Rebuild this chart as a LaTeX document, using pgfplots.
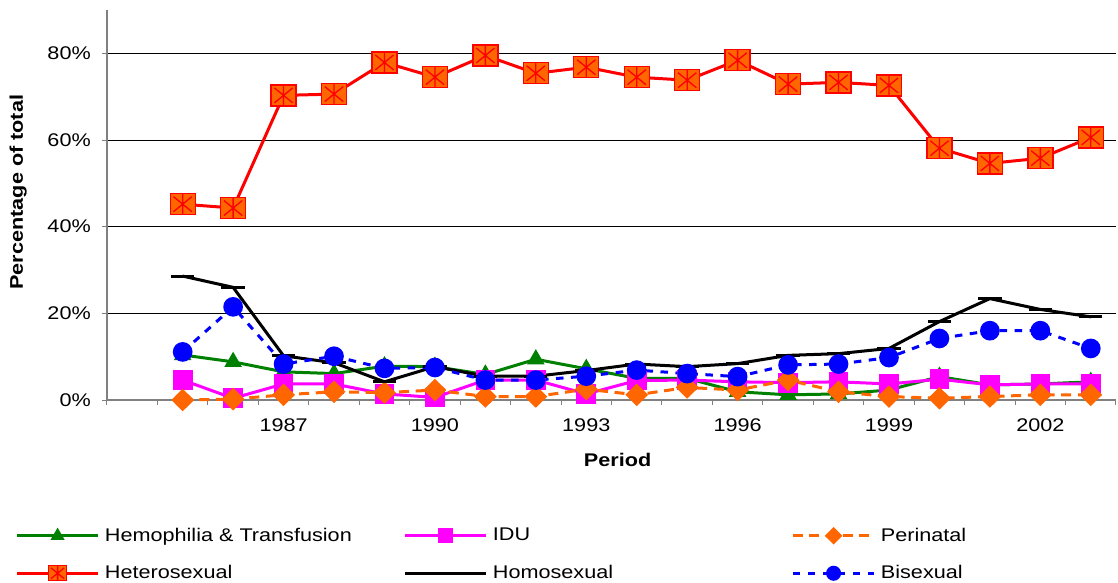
\documentclass[border=0pt]{standalone}
\usepackage{fontspec}
\setmainfont{Liberation Sans}[FakeStretch=1.18]
\usepackage{pgfplots}
\pgfplotsset{compat=1.18}

\definecolor{hemo}{RGB}{0,128,0}
\definecolor{idu}{RGB}{255,0,255}
\definecolor{peri}{RGB}{255,102,0}
\definecolor{hetfill}{RGB}{255,102,0}
\definecolor{bis}{RGB}{0,0,255}

% square with an asterisk inside (heterosexual marker)
\pgfdeclareplotmark{sqast}{%
  \pgfpathrectangle{\pgfqpoint{-7.5pt}{-6.3pt}}{\pgfqpoint{15pt}{12.6pt}}%
  \pgfusepathqfillstroke
  \pgfpathmoveto{\pgfqpoint{-5.5pt}{-4.5pt}}\pgfpathlineto{\pgfqpoint{5.5pt}{4.5pt}}%
  \pgfpathmoveto{\pgfqpoint{-5.5pt}{4.5pt}}\pgfpathlineto{\pgfqpoint{5.5pt}{-4.5pt}}%
  \pgfpathmoveto{\pgfqpoint{0pt}{-6.3pt}}\pgfpathlineto{\pgfqpoint{0pt}{6.3pt}}%
  \pgfusepathqstroke
}

\begin{document}
\begin{tikzpicture}
\useasboundingbox (-64.2pt,-109.2pt) rectangle (606.6pt,240pt);
\begin{axis}[
    scale only axis,
    width=605.4pt, height=234pt,
    xmin=1983.5, xmax=2003.5,
    ymin=0, ymax=90,
    axis x line=bottom, axis y line=left,
    axis line style={draw=gray, line width=0.8pt, -},
    xtick={1987,1990,...,2002},
    minor xtick={1983.5,1984.5,...,2003.5},
    major x tick style={draw=none},
    minor x tick style={draw=gray, line width=0.6pt},
    minor tick length=3.2pt,
    tick align=outside,
    ytick={0,20,...,80},
    major tick length=3.2pt,
    y tick style={draw=gray, line width=0.6pt},
    ymajorgrids=true,
    grid style={black, line width=0.45pt},
    x tick label style={/pgf/number format/1000 sep={}, yshift=-4.5pt},
    y tick label style={xshift=-3pt},
    yticklabel={\pgfmathprintnumber{\tick}\%},
    /pgf/number format/assume math mode=true,
    tick label style={font=\fontsize{11}{13}\selectfont},
    xlabel={\textbf{Period}},
    ylabel={\textbf{Percentage of total}},
    label style={font=\fontsize{11}{13}\selectfont},
    xlabel style={at={(axis description cs:0.506,-0.154)}, anchor=center},
    ylabel style={at={(axis description cs:-0.088,0.533)}, anchor=center},
    legend columns=3,
    legend cell align=left,
    legend style={at={(axis description cs:-0.0962,-0.31)}, anchor=north west,
      draw=none, fill=none, font=\fontsize{11}{13}\selectfont,
      /tikz/every odd column/.style={column sep=1pt},
      row sep=9pt},
    legend image code/.code={\draw[mark repeat=2,mark phase=2, every mark/.append style={scale=0.72}] plot coordinates {(0pt,0pt)(24.5pt,0pt)(49pt,0pt)};},
    clip=false,
]
% Hemophilia & Transfusion
\addplot[color=hemo, line width=1.8pt, mark=triangle*, mark size=4.3pt, mark options={solid}] coordinates {
(1985,10.4) (1986,8.8) (1987,6.5) (1988,6.1) (1989,7.8) (1990,7.7) (1991,5.9) (1992,9.4)
(1993,7.2) (1994,5.0) (1995,5.0) (1996,1.9) (1997,1.2) (1998,1.4) (1999,2.3) (2000,5.4)
(2001,3.5) (2002,3.7) (2003,4.2)};
% IDU
\addplot[color=idu, line width=1.8pt, mark=square*, mark size=5pt, mark options={solid}] coordinates {
(1985,4.6) (1986,0.4) (1987,3.7) (1988,3.7) (1989,1.4) (1990,0.6) (1991,4.6) (1992,4.6)
(1993,1.4) (1994,4.5) (1995,4.6) (1996,4.2) (1997,4.0) (1998,4.2) (1999,3.7) (2000,4.8)
(2001,3.5) (2002,3.7) (2003,3.7)};
% Perinatal
\addplot[color=peri, line width=1.8pt, dash pattern=on 6pt off 4pt, mark=diamond*, mark size=5.5pt, mark options={solid, xscale=1.35}] coordinates {
(1985,0.0) (1986,0.2) (1987,1.2) (1988,1.9) (1989,1.7) (1990,2.3) (1991,0.8) (1992,0.8)
(1993,2.5) (1994,1.2) (1995,2.9) (1996,2.3) (1997,4.6) (1998,1.9) (1999,0.8) (2000,0.4)
(2001,0.8) (2002,1.2) (2003,1.2)};
% Heterosexual
\addplot[color=red, line width=1.8pt, mark=sqast, mark options={solid, draw=red, fill=hetfill, line width=0.8pt}] coordinates {
(1985,45.2) (1986,44.3) (1987,70.3) (1988,70.6) (1989,77.9) (1990,74.5) (1991,79.5) (1992,75.4)
(1993,76.8) (1994,74.5) (1995,73.8) (1996,78.4) (1997,72.9) (1998,73.3) (1999,72.6) (2000,58.1)
(2001,54.6) (2002,55.8) (2003,60.6)};
% Homosexual
\addplot[color=black, line width=1.8pt, mark=-, mark size=7pt, mark options={solid}] coordinates {
(1985,28.6) (1986,26.0) (1987,10.2) (1988,8.6) (1989,4.2) (1990,7.7) (1991,5.5) (1992,5.5)
(1993,6.8) (1994,8.3) (1995,7.7) (1996,8.4) (1997,10.3) (1998,10.7) (1999,11.9) (2000,18.1)
(2001,23.4) (2002,20.9) (2003,19.2)};
% Bisexual
\addplot[color=bis, line width=1.8pt, dash pattern=on 4.5pt off 4.5pt, mark=*, mark size=5pt, mark options={solid}] coordinates {
(1985,11.1) (1986,21.5) (1987,8.3) (1988,10.1) (1989,7.3) (1990,7.5) (1991,4.6) (1992,4.6)
(1993,5.5) (1994,6.9) (1995,6.1) (1996,5.4) (1997,8.1) (1998,8.3) (1999,9.8) (2000,14.2)
(2001,16.0) (2002,16.0) (2003,11.9)};
\legend{\makebox[177pt][l]{Hemophilia \& Transfusion}, \makebox[177pt][l]{IDU}, Perinatal,
        \makebox[177pt][l]{Heterosexual}, \makebox[177pt][l]{Homosexual}, Bisexual}
\end{axis}
\end{tikzpicture}
\end{document}
